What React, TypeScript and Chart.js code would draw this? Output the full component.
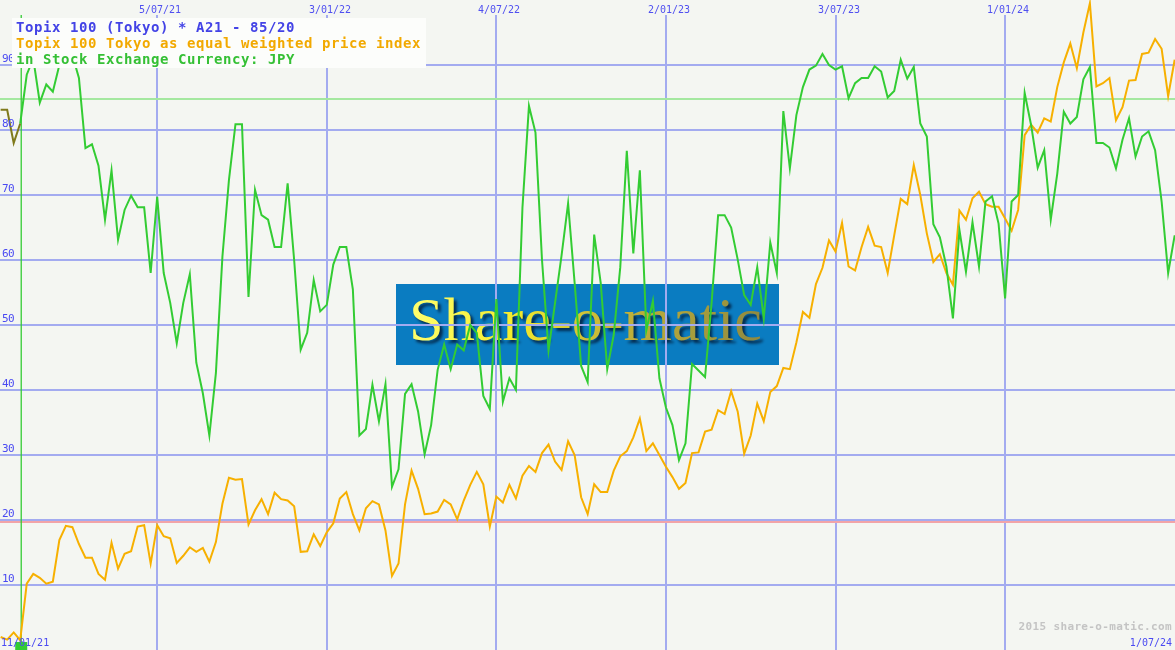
import React, { useEffect, useRef } from "react";
import { Chart, registerables } from "chart.js";

Chart.register(...registerables);

// ---------- text ----------
const TITLE_LINES = [
  "Topix 100 (Tokyo) * A21 - 85/20",
  "Topix 100 Tokyo as equal weighted price index",
  "in Stock Exchange Currency: JPY",
];
const FOOTER_TEXT = "2015 share-o-matic.com";
const LOGO_TEXT = "Share-o-matic";

// ---------- axes (x in weeks from the first data week) ----------
const X_MIN = -0.1;
const X_MAX = 180.05;
const GRID_WEEKS = [24, 50, 76, 102, 128, 154];
const GRID_LABELS = ["5/07/21", "3/01/22", "4/07/22", "2/01/23", "3/07/23", "1/01/24"];
const FIRST_LABEL = "11/01/21";
const LAST_LABEL = "1/07/24";
const Y_TICKS = [10, 20, 30, 40, 50, 60, 70, 80, 90];
const UPPER_LEVEL = 85;
const LOWER_LEVEL = 20;
const SIGNAL_START_WEEK = 3;

// ---------- data ----------
// indicator warm-up (weeks 0..3)
const OLIVE_VALUES = [83.1, 83.1, 78, 81];
// indicator A21 (weeks 3..180)
const GREEN_VALUES = [
  81, 88.5, 91, 84.2, 87, 85.9, 90, 92, 91.5, 88,
  77.2, 77.8, 74.5, 66.2, 73.8, 63.1, 67.7, 69.9, 68.1, 68.1,
  58, 69.7, 58, 53.4, 47.2, 53.4, 57.8, 44.2, 39.5, 33,
  42.6, 60.5, 72.3, 80.9, 80.9, 54.3, 70.8, 66.9, 66.2, 62,
  62, 71.8, 60, 46.2, 48.8, 56.9, 52.1, 53.1, 59.3, 62,
  62, 55.5, 33, 34, 40.8, 35.2, 40.9, 25.1, 27.8, 39.4,
  40.9, 36.7, 30.1, 34.6, 43.1, 47, 43.2, 47, 46.1, 50,
  48.8, 39.1, 37.1, 54, 38.2, 41.8, 40, 68, 83.7, 79.6,
  60, 46.1, 53.4, 60.7, 68.7, 56.5, 43.7, 41.2, 63.9, 56.5,
  43.2, 48.5, 58.9, 76.8, 61, 73.8, 49.2, 53.7, 41.8, 37.3,
  34.6, 29.2, 31.8, 44, 43, 42, 53.4, 66.9, 66.9, 65,
  60.1, 54.6, 53.1, 58.9, 51, 62.7, 58, 82.9, 74.1, 82.3,
  86.6, 89.3, 89.9, 91.7, 90, 89.3, 89.8, 84.9, 87.2, 88,
  88, 89.8, 89, 85, 86, 90.8, 87.9, 89.7, 81, 79,
  65.5, 63.5, 59, 51, 64.6, 58.2, 65.8, 59, 69, 69.8,
  65.6, 54.1, 69, 70, 85.7, 80.7, 74.2, 76.9, 66.2, 73.3,
  82.8, 81, 82, 87.8, 89.7, 78, 78, 77.3, 74.1, 78.5,
  81.8, 75.9, 79, 79.8, 76.9, 69, 58, 63.8,
];
// price index scaled 0..100 (weeks 0..180)
const ORANGE_VALUES = [
  2, 1.6, 2.7, 1.5, 10.2, 11.7, 11.1, 10.2, 10.5, 16.9,
  19.1, 18.9, 16.3, 14.2, 14.2, 11.7, 10.8, 16.5, 12.5, 14.8,
  15.2, 19, 19.2, 13.3, 19.2, 17.5, 17.2, 13.4, 14.5, 15.8,
  15.1, 15.7, 13.6, 16.6, 22.5, 26.5, 26.2, 26.3, 19.3, 21.5,
  23.2, 20.9, 24.2, 23.2, 23, 22.1, 15.1, 15.2, 17.8, 16,
  18.1, 19.5, 23.3, 24.3, 20.9, 18.4, 21.8, 22.9, 22.4, 18.4,
  11.4, 13.3, 22.4, 27.6, 24.8, 20.9, 21, 21.3, 23.1, 22.4,
  20.1, 23, 25.4, 27.4, 25.5, 19, 23.6, 22.7, 25.4, 23.3,
  26.8, 28.3, 27.4, 30.3, 31.6, 29, 27.7, 32.1, 30, 23.5,
  20.9, 25.5, 24.3, 24.3, 27.6, 29.8, 30.6, 32.7, 35.6, 30.6,
  31.8, 30, 28.2, 26.6, 24.8, 25.7, 30.3, 30.4, 33.6, 33.9,
  36.9, 36.3, 39.8, 36.7, 30.2, 33, 37.9, 35.2, 39.7, 40.6,
  43.4, 43.2, 47.3, 52, 51.1, 56.3, 58.8, 63, 61.3, 65.7,
  59, 58.4, 62, 65.1, 62.2, 62, 58, 63.8, 69.4, 68.6,
  74.6, 70, 64.1, 59.7, 60.9, 58, 56.2, 67.6, 66.2, 69.5,
  70.5, 68.6, 68.2, 68.2, 66.4, 64.5, 67.7, 79.2, 80.8, 79.6,
  81.8, 81.3, 86.6, 90.4, 93.3, 89.5, 95, 99.5, 86.7, 87.2,
  88, 81.5, 83.5, 87.6, 87.7, 91.7, 91.9, 94, 92.5, 85.2, 90.8,
];

// ---------- styles ----------
const BG = "#f4f6f2";
const GRID = "#a3abf0";
const TICK_COLOR = "#4a4af2";
const GREEN = "#33cc33";
const ORANGE = "#f7b000";
const OLIVE = "#7f7a1c";
const TITLE_COLORS = ["#4343e6", "#f2a900", "#35c035"];
const MONO = "'DejaVu Sans Mono', 'Liberation Mono', monospace";
const LOGO_BOX = { x: 396, y: 284, w: 383, h: 81 };

const toPoints = (vals: number[], start: number) =>
  vals.map((v, i) => ({ x: start + i, y: v }));

export default function App() {
  const ref = useRef<HTMLCanvasElement>(null);

  useEffect(() => {
    document.body.style.margin = "0";
    const canvas = ref.current!;

    const decor = {
      id: "decor",
      beforeDraw(chart: any) {
        const { ctx, width, height } = chart;
        ctx.save();
        ctx.fillStyle = BG;
        ctx.fillRect(0, 0, width, height);
        // logo
        ctx.fillStyle = "#0a7cc1";
        ctx.fillRect(LOGO_BOX.x, LOGO_BOX.y, LOGO_BOX.w, LOGO_BOX.h);
        ctx.font = "62px 'Liberation Serif', 'DejaVu Serif', serif";
        const tw = ctx.measureText(LOGO_TEXT).width;
        const targetW = LOGO_BOX.w - 30;
        ctx.translate(LOGO_BOX.x + 13, LOGO_BOX.y + 56);
        ctx.scale(targetW / tw, 1);
        const g = ctx.createLinearGradient(0, -40, tw, 10);
        g.addColorStop(0, "#ffff70");
        g.addColorStop(0.3, "#f4ec2c");
        g.addColorStop(0.55, "#c8b838");
        g.addColorStop(1, "#8e8840");
        ctx.shadowColor = "rgba(0,15,40,0.75)";
        ctx.shadowOffsetX = 3;
        ctx.shadowOffsetY = 3;
        ctx.shadowBlur = 3;
        ctx.fillStyle = g;
        ctx.fillText(LOGO_TEXT, 0, 0);
        ctx.restore();
      },
      beforeDatasetsDraw(chart: any) {
        const { ctx, width, height } = chart;
        const xs = chart.scales.x;
        const ys = chart.scales.y;
        ctx.save();
        ctx.lineWidth = 2;
        ctx.strokeStyle = GRID;
        Y_TICKS.forEach((v) => {
          const y = Math.round(ys.getPixelForValue(v));
          ctx.beginPath();
          ctx.moveTo(0, y);
          ctx.lineTo(width, y);
          ctx.stroke();
        });
        GRID_WEEKS.forEach((w) => {
          const x = Math.round(xs.getPixelForValue(w));
          ctx.beginPath();
          ctx.moveTo(x, 15);
          ctx.lineTo(x, height);
          ctx.stroke();
        });
        // threshold lines
        const yUp = ys.getPixelForValue(UPPER_LEVEL) + 1.5;
        ctx.strokeStyle = "#a4e8a0";
        ctx.beginPath();
        ctx.moveTo(0, yUp);
        ctx.lineTo(width, yUp);
        ctx.stroke();
        const yLo = ys.getPixelForValue(LOWER_LEVEL) + 2;
        ctx.strokeStyle = "#f2a4a8";
        ctx.beginPath();
        ctx.moveTo(0, yLo);
        ctx.lineTo(width, yLo);
        ctx.stroke();
        // signal start marker
        const xs0 = xs.getPixelForValue(SIGNAL_START_WEEK) + 1;
        ctx.strokeStyle = GREEN;
        ctx.lineWidth = 1.3;
        ctx.beginPath();
        ctx.moveTo(xs0, 15);
        ctx.lineTo(xs0, height);
        ctx.stroke();
        ctx.fillStyle = GREEN;
        ctx.fillRect(xs0 - 6, height - 8, 12, 8);
        ctx.restore();
      },
      afterDatasetsDraw(chart: any) {
        const { ctx, width, height } = chart;
        const xs = chart.scales.x;
        const ys = chart.scales.y;
        ctx.save();
        // y tick labels
        ctx.fillStyle = TICK_COLOR;
        ctx.font = `11px ${MONO}`;
        (ctx as any).letterSpacing = "-0.6px";
        ctx.textAlign = "left";
        ctx.textBaseline = "alphabetic";
        Y_TICKS.forEach((v) => {
          const y = Math.round(ys.getPixelForValue(v));
          ctx.fillText(String(v), 2, y - 3);
        });
        // date labels
        ctx.font = `10px ${MONO}`;
        (ctx as any).letterSpacing = "0px";
        ctx.fillStyle = "#5050f0";
        ctx.textAlign = "center";
        GRID_WEEKS.forEach((w, i) => {
          const x = Math.round(xs.getPixelForValue(w));
          ctx.fillText(GRID_LABELS[i], x + 3, 13);
        });
        ctx.fillStyle = TICK_COLOR;
        ctx.textAlign = "left";
        ctx.fillText(FIRST_LABEL, 1, height - 4);
        ctx.textAlign = "right";
        ctx.fillText(LAST_LABEL, width - 3, height - 4);
        // footer
        ctx.fillStyle = "#c4c4c4";
        ctx.font = `bold 11px ${MONO}`;
        (ctx as any).letterSpacing = "0.35px";
        ctx.fillText(FOOTER_TEXT, width - 3, height - 20);
        // title box
        ctx.fillStyle = "#fcfdfb";
        ctx.fillRect(12, 18, 414, 50);
        ctx.font = `bold 14px ${MONO}`;
        (ctx as any).letterSpacing = "0.57px";
        ctx.textAlign = "left";
        TITLE_LINES.forEach((t, i) => {
          ctx.fillStyle = TITLE_COLORS[i];
          ctx.fillText(t, 16, 32 + i * 16);
        });
        ctx.restore();
      },
    };

    const chart = new Chart(canvas, {
      type: "line",
      data: {
        datasets: [
          {
            label: "A21",
            data: toPoints(GREEN_VALUES, SIGNAL_START_WEEK),
            borderColor: GREEN,
            borderWidth: 2,
            pointRadius: 0,
            tension: 0,
          },
          {
            label: "warm-up",
            data: toPoints(OLIVE_VALUES, 0),
            borderColor: OLIVE,
            borderWidth: 2,
            pointRadius: 0,
            tension: 0,
          },
          {
            label: "Price",
            data: toPoints(ORANGE_VALUES, 0),
            borderColor: ORANGE,
            borderWidth: 2,
            pointRadius: 0,
            tension: 0,
          },
        ],
      },
      options: {
        animation: false,
        responsive: false,
        devicePixelRatio: 1,
        layout: { padding: 0 },
        events: [],
        plugins: { legend: { display: false }, tooltip: { enabled: false } },
        scales: {
          x: { type: "linear", min: X_MIN, max: X_MAX, display: false },
          y: { type: "linear", min: 0, max: 100, display: false },
        },
      },
      plugins: [decor],
    } as any);

    return () => chart.destroy();
  }, []);

  return <canvas ref={ref} width={1175} height={650} style={{ display: "block" }} />;
}
